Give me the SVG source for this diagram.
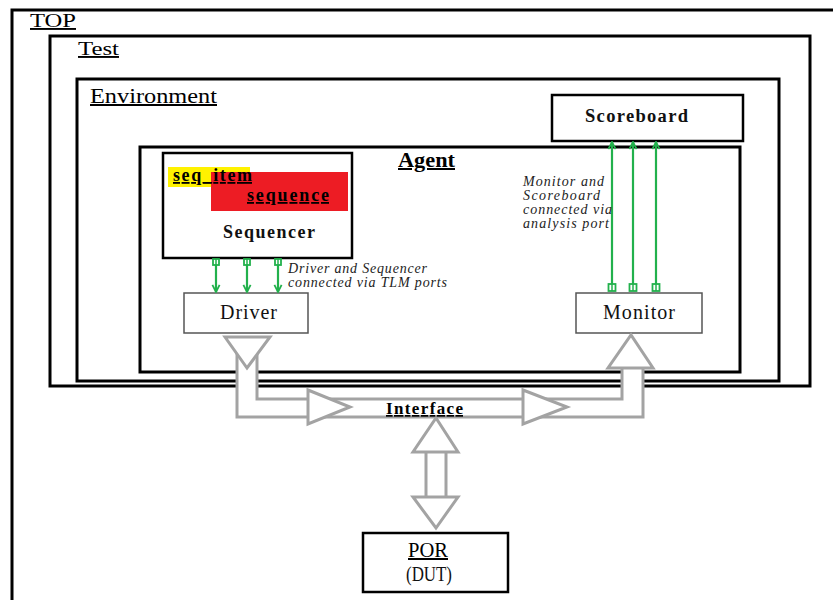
<svg xmlns="http://www.w3.org/2000/svg" width="833" height="600" viewBox="0 0 833 600">
<style>
.frame{fill:none;stroke:#000;stroke-width:3}
.lbl{font-family:"Liberation Serif",serif;fill:#000;text-decoration:underline}
.blk{fill:#fff;stroke:#000;stroke-width:2.5}
.comp{fill:#fff;stroke:#555;stroke-width:1.5}
.serif{font-family:"Liberation Serif",serif;fill:#111}
.ital{font-family:"Liberation Serif",serif;font-style:italic;font-size:14px;fill:#222}
.gray{fill:#fff;stroke:#a3a3a3;stroke-width:3;stroke-linejoin:miter}
.g{stroke:#22b14c;stroke-width:2.2;fill:none}
.port{fill:#fff;stroke:#22b14c;stroke-width:1.8}
</style>
<defs>
<marker id="chev" viewBox="0 0 10 10" refX="9" refY="5" markerWidth="9" markerHeight="11" orient="auto" markerUnits="userSpaceOnUse">
<path d="M1,1 L9,5 L1,9" fill="none" stroke="#22b14c" stroke-width="2"/>
</marker>
</defs>
<rect width="833" height="600" fill="#fff"/>

<g id="top">
<rect class="frame" x="12" y="10" width="900" height="620"/>
<text class="lbl" x="30" y="27" font-size="19" textLength="46" lengthAdjust="spacingAndGlyphs">TOP</text>
</g>
<g id="test">
<rect class="frame" x="50" y="36" width="760" height="350"/>
<text class="lbl" x="78" y="55" font-size="19" textLength="41" lengthAdjust="spacingAndGlyphs">Test</text>
</g>
<g id="environment">
<rect class="frame" x="77" y="79" width="702" height="302"/>
<text class="lbl" x="90" y="103" font-size="20" textLength="127" lengthAdjust="spacingAndGlyphs">Environment</text>
</g>
<g id="agent">
<rect class="frame" x="140" y="147" width="600" height="225"/>
<text class="lbl" x="398" y="167" font-size="20" font-weight="bold" textLength="57" lengthAdjust="spacingAndGlyphs">Agent</text>
</g>

<g id="scoreboard">
<rect class="blk" x="552" y="95" width="191" height="46"/>
<text class="serif" x="585" y="122" font-size="18.5" font-weight="bold" textLength="103" lengthAdjust="spacing">Scoreboard</text>
</g>

<g id="sequencer">
<rect class="blk" x="163" y="153" width="189" height="105" stroke-width="2"/>
<rect x="168" y="167" width="82" height="20" fill="#fff200"/>
<rect x="211" y="172" width="137" height="39" fill="#ed1c24"/>
<text class="lbl" x="173" y="181" font-size="18" font-weight="bold" textLength="79" lengthAdjust="spacing">seq_item</text>
<text class="lbl" x="247" y="201" font-size="18" font-weight="bold" textLength="82" lengthAdjust="spacing">sequence</text>
<text class="serif" x="223" y="238" font-size="18" font-weight="bold" textLength="92" lengthAdjust="spacing">Sequencer</text>
</g>

<g id="driver">
<rect class="comp" x="184" y="293" width="124" height="40"/>
<text class="serif" x="220" y="319" font-size="20" textLength="57" lengthAdjust="spacing">Driver</text>
</g>

<g id="monitor">
<rect class="comp" x="576" y="293" width="126" height="40"/>
<text class="serif" x="603" y="319" font-size="20" textLength="72" lengthAdjust="spacing">Monitor</text>
</g>

<g id="dut">
<rect class="blk" x="363" y="533" width="145" height="59" stroke-width="2"/>
<text class="lbl" x="408" y="557" font-size="20" textLength="40" lengthAdjust="spacingAndGlyphs">POR</text>
<text class="serif" x="406" y="581" font-size="20" textLength="46" lengthAdjust="spacingAndGlyphs">(DUT)</text>
</g>

<g id="connectors">
<path class="gray" d="M237,352 L237,417 L643,417 L643,366 L622,366 L622,399 L257,399 L257,352"/>
<polygon class="gray" points="225,337 270,337 247,368"/>
<polygon class="gray" points="608,368 653,368 631,335"/>
<polygon class="gray" points="308,390 350,407 308,424"/>
<polygon class="gray" points="523,390 567,407 523,424"/>
<path class="gray" d="M426,451 L426,498 L446,498 L446,451 Z"/>
<polygon class="gray" points="413,452 458,452 436,418"/>
<polygon class="gray" points="413,497 458,497 436,528"/>
<text x="386" y="414" font-family="Liberation Serif, serif" font-size="17" font-weight="bold" text-decoration="underline" textLength="77" lengthAdjust="spacing">Interface</text>

<g>
<line class="g" x1="216" y1="264" x2="216" y2="292" marker-end="url(#chev)"/>
<line class="g" x1="247" y1="264" x2="247" y2="292" marker-end="url(#chev)"/>
<line class="g" x1="278" y1="264" x2="278" y2="292" marker-end="url(#chev)"/>
<rect class="port" x="213" y="259" width="6" height="6"/>
<rect class="port" x="244" y="259" width="6" height="6"/>
<rect class="port" x="275" y="259" width="6" height="6"/>
<line x1="216" y1="259" x2="216" y2="265" stroke="#22b14c" stroke-width="1.5"/>
<line x1="247" y1="259" x2="247" y2="265" stroke="#22b14c" stroke-width="1.5"/>
<line x1="278" y1="259" x2="278" y2="265" stroke="#22b14c" stroke-width="1.5"/>
</g>
<text class="ital" x="288" y="273" textLength="139" lengthAdjust="spacing">Driver and Sequencer</text>
<text class="ital" x="288" y="287" textLength="159" lengthAdjust="spacing">connected via TLM ports</text>

<g>
<line class="g" x1="612" y1="284" x2="612" y2="142" marker-end="url(#chev)"/>
<line class="g" x1="633" y1="284" x2="633" y2="142" marker-end="url(#chev)"/>
<line class="g" x1="656" y1="284" x2="656" y2="142" marker-end="url(#chev)"/>
<rect class="port" x="608.5" y="284" width="7" height="7"/>
<rect class="port" x="629.5" y="284" width="7" height="7"/>
<rect class="port" x="652.5" y="284" width="7" height="7"/>
<line x1="612" y1="284" x2="612" y2="291" stroke="#22b14c" stroke-width="1.5"/>
<line x1="633" y1="284" x2="633" y2="291" stroke="#22b14c" stroke-width="1.5"/>
<line x1="656" y1="284" x2="656" y2="291" stroke="#22b14c" stroke-width="1.5"/>
</g>
<text class="ital" x="523" y="186" textLength="81" lengthAdjust="spacing">Monitor and</text>
<text class="ital" x="523" y="200" textLength="77" lengthAdjust="spacing">Scoreboard</text>
<text class="ital" x="523" y="214" textLength="89" lengthAdjust="spacing">connected via</text>
<text class="ital" x="523" y="228" textLength="86" lengthAdjust="spacing">analysis port</text>
</g>
</svg>
